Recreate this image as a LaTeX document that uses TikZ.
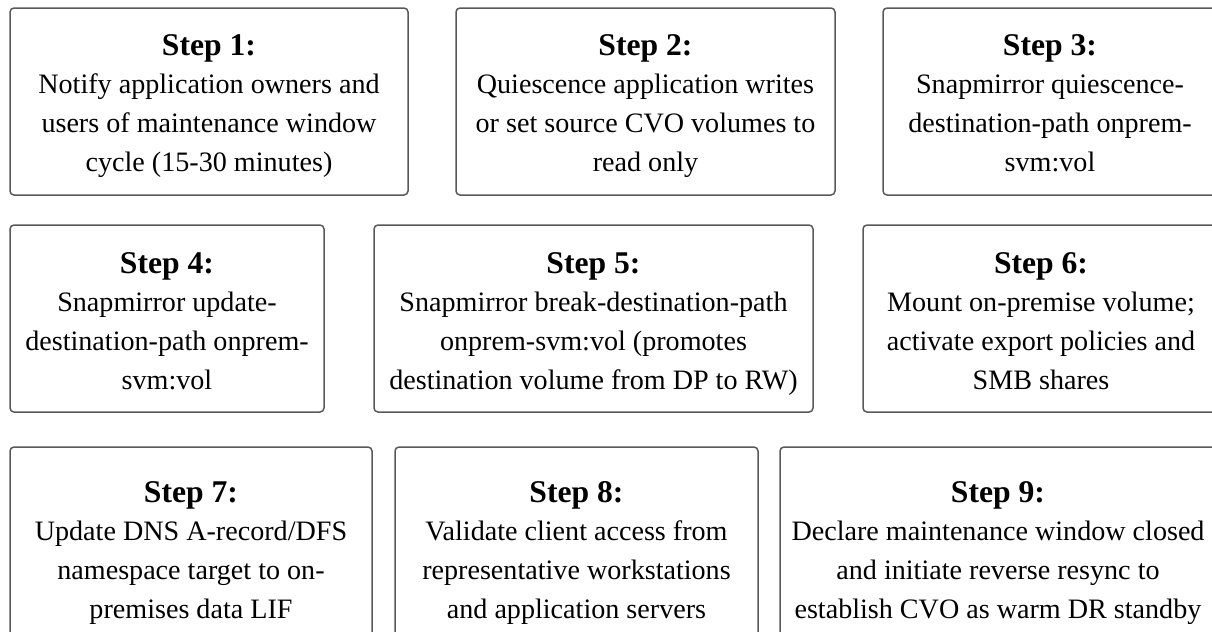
\documentclass[tikz,border=0pt]{standalone}
\usepackage{fontspec}
\setmainfont{Liberation Serif}

\tikzset{
  stepbox/.style={draw=black!65, line width=0.3mm, rounded corners=0.8mm},
  steptext/.style={align=center, inner sep=0pt, anchor=base, font=\fontsize{16}{22}\selectfont},
}
\newcommand{\steptitle}[1]{{\fontsize{18}{22}\selectfont\bfseries Step #1:}}

\begin{document}
\begin{tikzpicture}[x=0.2mm,y=-0.2mm]

\useasboundingbox (0,0) rectangle (1212,631);
\clip (0,0) rectangle (1212,631);

% first row (text placed by baseline of its last line)
\draw[stepbox] (10,8) rectangle (408,195);
\node[steptext] (s1) at (209,171)
  {\steptitle{1}\\ Notify application owners and\\ users of maintenance window\\ cycle (15-30 minutes)};
\draw[stepbox] (456,8) rectangle (835,195);
\node[steptext] (s2) at (645.5,171)
  {\steptitle{2}\\ Quiescence application writes\\ or set source CVO volumes to\\ read only};
\draw[stepbox] (883,8) rectangle (1217,195);
\node[steptext] (s3) at (1050,171)
  {\steptitle{3}\\ Snapmirror quiescence-\\ destination-path onprem-\\ svm:vol};

% second row
\draw[stepbox] (10,225) rectangle (324,412);
\node[steptext] (s4) at (167,389)
  {\steptitle{4}\\ Snapmirror update-\\ destination-path onprem-\\ svm:vol};
\draw[stepbox] (374,225) rectangle (813,412);
\node[steptext] (s5) at (593.5,389)
  {\steptitle{5}\\ Snapmirror break-destination-path\\ onprem-svm:vol (promotes\\ destination volume from DP to RW)};
\draw[stepbox] (863,225) rectangle (1219,412);
\node[steptext] (s6) at (1041,389)
  {\steptitle{6}\\ Mount on-premise volume;\\ activate export policies and\\ SMB shares};

% third row
\draw[stepbox] (10,447) rectangle (372,655);
\node[steptext] (s7) at (191,618)
  {\steptitle{7}\\ Update DNS A-record/DFS\\ namespace target to on-\\ premises data LIF};
\draw[stepbox] (395,447) rectangle (758,655);
\node[steptext] (s8) at (576.5,618)
  {\steptitle{8}\\ Validate client access from\\ representative workstations\\ and application servers};
\draw[stepbox] (780,447) rectangle (1216,655);
\node[steptext] (s9) at (998,618)
  {\steptitle{9}\\ Declare maintenance window closed\\ and initiate reverse resync to\\ establish CVO as warm DR standby};

\end{tikzpicture}
\end{document}
